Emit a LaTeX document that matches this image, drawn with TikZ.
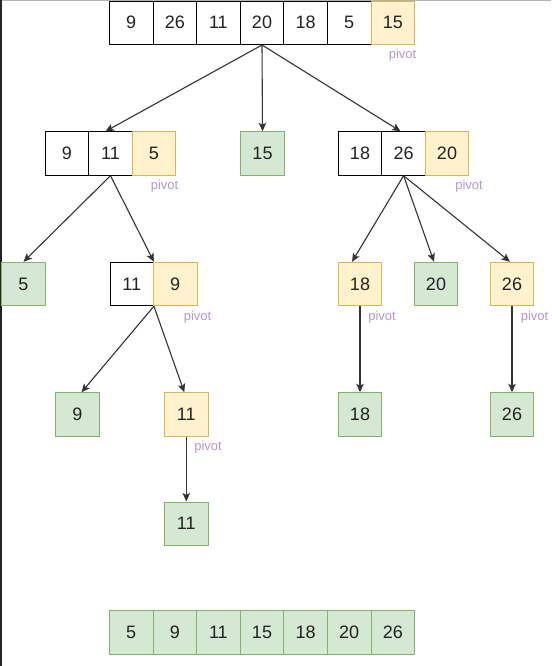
\documentclass[tikz,border=0pt]{standalone}
\usepackage{fontspec}
\setmainfont{Liberation Sans}
\usetikzlibrary{arrows.meta}
\definecolor{yfill}{HTML}{FFF2CC}
\definecolor{ydraw}{HTML}{D6B656}
\definecolor{gfill}{HTML}{D5E8D4}
\definecolor{gdraw}{HTML}{82B366}
\definecolor{pcol}{HTML}{B596D0}
\definecolor{txt}{HTML}{222222}
\definecolor{edgecol}{HTML}{333333}
\begin{document}
\begin{tikzpicture}[x=1pt,y=-1pt,
  cellbox/.style={draw=black, line width=0.9pt, minimum width=43.5pt, minimum height=43.5pt,
    inner sep=0pt, font=\fontsize{18}{21}\selectfont, text=txt},
  ycell/.style={cellbox, fill=yfill, draw=ydraw},
  gcell/.style={cellbox, fill=gfill, draw=gdraw},
  pivlab/.style={inner sep=0pt, font=\fontsize{13}{15}\selectfont, text=pcol},
  arr/.style={draw=edgecol, line width=1.1pt, -{Stealth[length=8.5pt,width=7.5pt,inset=2pt]}}]
\useasboundingbox (0,0) rectangle (551,666);
\fill[white] (0,0) rectangle (551,666);
\draw[gray!60, line width=1pt] (0,0.5) -- (551,0.5);
\draw[black!85, line width=1.6pt] (0.8,0) -- (0.8,666);

% top row
\node[cellbox] (t1) at (131.2,22.8) {9};
\node[cellbox] (t2) at (174.8,22.8) {26};
\node[cellbox] (t3) at (218.4,22.8) {11};
\node[cellbox] (t4) at (262.0,22.8) {20};
\node[cellbox] (t5) at (305.6,22.8) {18};
\node[cellbox] (t6) at (349.2,22.8) {5};
\node[ycell]   (t7) at (392.8,22.8) {15};
\node[pivlab] (pv1) at (402.5,55.5) {pivot};

% level 2
\node[cellbox] (a1) at (67,153.5) {9};
\node[cellbox] (a2) at (110.5,153.5) {11};
\node[ycell]   (a3) at (154,153.5) {5};
\node[pivlab] (pv2) at (164.5,186) {pivot};
\node[gcell]   (b)  at (262.5,153.5) {15};
\node[cellbox] (c1) at (360,153.5) {18};
\node[cellbox] (c2) at (403.6,153.5) {26};
\node[ycell]   (c3) at (447,153.5) {20};
\node[pivlab] (pv3) at (469,186) {pivot};

% level 3
\node[gcell]   (d)  at (23.5,284) {5};
\node[cellbox] (e1) at (131.7,284) {11};
\node[ycell]   (e2) at (175.2,284) {9};
\node[pivlab] (pv4) at (197.5,317) {pivot};
\node[ycell]   (f)  at (360,284) {18};
\node[pivlab] (pv5) at (382,317) {pivot};
\node[gcell]   (g)  at (436,284) {20};
\node[ycell]   (h)  at (512,284) {26};
\node[pivlab] (pv6) at (534.5,317) {pivot};

% level 4
\node[gcell] (i) at (77.5,414.5) {9};
\node[ycell] (j) at (186.3,414.5) {11};
\node[pivlab] (pv7) at (208,447) {pivot};
\node[gcell] (k) at (360,414.5) {18};
\node[gcell] (l) at (512,414.5) {26};

% level 5
\node[gcell] (m) at (186.3,523.7) {11};

% sorted row
\node[gcell] (s1) at (131.2,632.3) {5};
\node[gcell] (s2) at (174.8,632.3) {9};
\node[gcell] (s3) at (218.4,632.3) {11};
\node[gcell] (s4) at (262.0,632.3) {15};
\node[gcell] (s5) at (305.6,632.3) {18};
\node[gcell] (s6) at (349.2,632.3) {20};
\node[gcell] (s7) at (392.8,632.3) {26};

% connectors
\draw[arr] (t4.south) -- ([xshift=-5pt]a2.north);
\draw[arr] (t4.south) -- (b.north);
\draw[arr] (t4.south) -- ([xshift=-3pt]c2.north);
\draw[arr] (a2.south) -- (d.north);
\draw[arr] (a2.south) -- (e1.north east);
\draw[arr] (c2.south) -- ([xshift=-8pt]f.north);
\draw[arr] (c2.south) -- ([xshift=-2pt]g.north);
\draw[arr] (c2.south) -- ([xshift=-2pt]h.north);
\draw[arr] (e1.south east) -- ([xshift=4pt]i.north);
\draw[arr] (e1.south east) -- ([xshift=-2pt]j.north);
\draw[arr] (f.south) -- (k.north);
\draw[arr] (h.south) -- (l.north);
\draw[arr] (j.south) -- (m.north);
\end{tikzpicture}
\end{document}
